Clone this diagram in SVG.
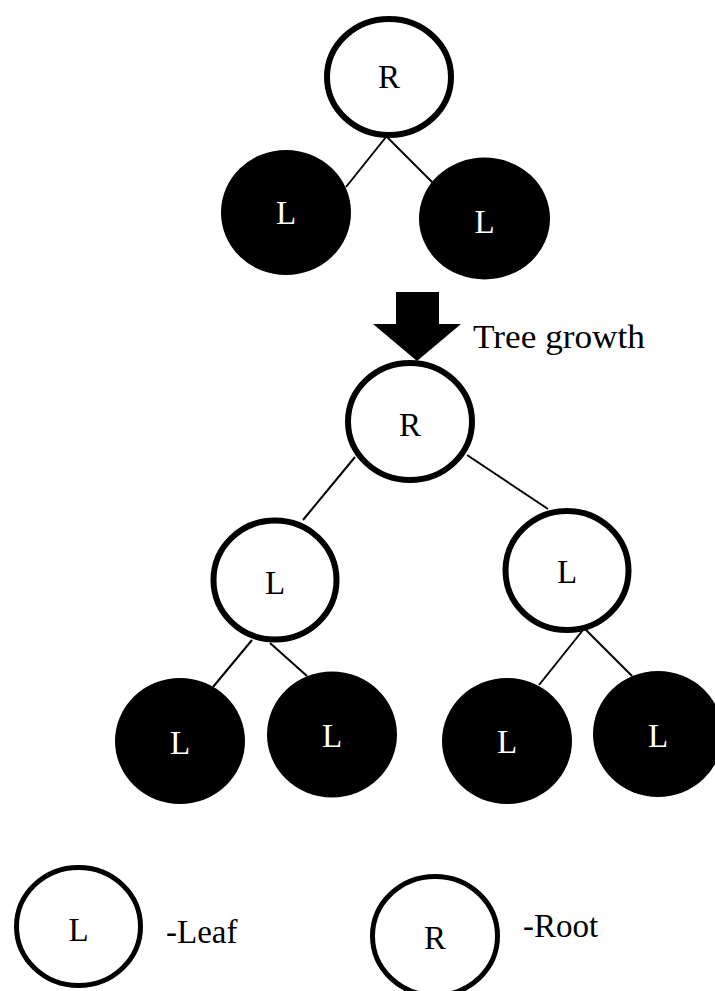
<svg xmlns="http://www.w3.org/2000/svg" width="715" height="991" viewBox="0 0 715 991">
<style>
.w{fill:#fff;stroke:#000;stroke-width:6}
.b{fill:#000;stroke:none}
.t{font-family:"Liberation Serif","DejaVu Serif",serif;font-size:33px;text-anchor:middle;fill:#000}
.tw{font-family:"Liberation Serif","DejaVu Serif",serif;font-size:33px;text-anchor:middle;fill:#fff}
.lbl{font-family:"Liberation Serif","DejaVu Serif",serif;font-size:33px;fill:#000}
.e{stroke:#000;stroke-width:2;fill:none}
</style>
<rect width="715" height="991" fill="#fff"/>
<g id="connectors">
<line class="e" x1="386" y1="137" x2="346" y2="187"/>
<line class="e" x1="387" y1="137" x2="433" y2="183"/>
<line class="e" x1="355" y1="457" x2="303" y2="520"/>
<line class="e" x1="467" y1="455" x2="548" y2="509"/>
<line class="e" x1="252" y1="640" x2="213" y2="687"/>
<line class="e" x1="270" y1="643" x2="307" y2="676"/>
<line class="e" x1="583" y1="630" x2="539" y2="685"/>
<line class="e" x1="586" y1="630" x2="632" y2="676"/>
</g>
<g id="top-root">
<ellipse class="w" cx="389" cy="77" rx="62" ry="58"/>
<text class="t" x="389" y="88">R</text>
</g>
<g id="top-leaf-left">
<ellipse class="b" cx="286" cy="212.5" rx="65" ry="62.5"/>
<text class="tw" x="286" y="224">L</text>
</g>
<g id="top-leaf-right">
<ellipse class="b" cx="484.5" cy="218.5" rx="65.5" ry="61"/>
<text class="tw" x="484.5" y="233">L</text>
</g>
<g id="growth-arrow">
<polygon points="396,292 439,292 439,324 461,324 417,361 373,324 396,324" fill="#000"/>
<text class="lbl" x="473" y="348" textLength="172" lengthAdjust="spacingAndGlyphs">Tree growth</text>
</g>
<g id="mid-root">
<ellipse class="w" cx="410" cy="421.5" rx="62" ry="58.5"/>
<text class="t" x="410" y="436">R</text>
</g>
<g id="mid-leaf-left">
<ellipse class="w" cx="275" cy="580" rx="61.5" ry="59.5"/>
<text class="t" x="275" y="594">L</text>
</g>
<g id="mid-leaf-right">
<ellipse class="w" cx="567" cy="570.5" rx="61.5" ry="59.5"/>
<text class="t" x="567" y="583">L</text>
</g>
<g id="leaf-1">
<ellipse class="b" cx="180" cy="741" rx="65" ry="63"/>
<text class="tw" x="180" y="754">L</text>
</g>
<g id="leaf-2">
<ellipse class="b" cx="332" cy="734.5" rx="65" ry="63"/>
<text class="tw" x="332" y="747">L</text>
</g>
<g id="leaf-3">
<ellipse class="b" cx="507" cy="741" rx="65" ry="63"/>
<text class="tw" x="507" y="753">L</text>
</g>
<g id="leaf-4">
<ellipse class="b" cx="658" cy="734" rx="65" ry="63"/>
<text class="tw" x="658" y="747">L</text>
</g>
<g id="legend-leaf">
<ellipse class="w" cx="78.5" cy="926.5" rx="62" ry="59" style="stroke-width:5"/>
<text class="t" x="78.5" y="941">L</text>
<text class="lbl" x="166" y="943">-Leaf</text>
</g>
<g id="legend-root">
<ellipse class="w" cx="435" cy="936" rx="62.5" ry="59.5" style="stroke-width:5"/>
<text class="t" x="435" y="949">R</text>
<text class="lbl" x="523" y="937">-Root</text>
</g>
</svg>
